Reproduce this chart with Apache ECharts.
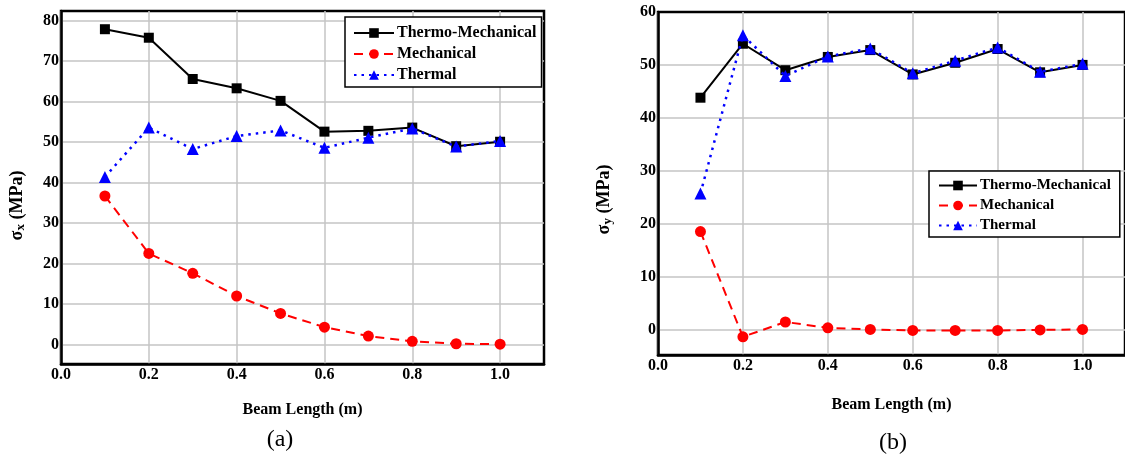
<!DOCTYPE html>
<html><head><meta charset="utf-8">
<script src="https://cdn.jsdelivr.net/npm/echarts@6/dist/echarts.min.js"></script>
<style>html,body{margin:0;padding:0;background:#fff}#c{width:1125px;height:461px}</style>
</head><body><div id="c"></div>
<script>
// ---- data ----
const beamLength = [0.1, 0.2, 0.3, 0.4, 0.5, 0.6, 0.7, 0.8, 0.9, 1.0];
const sxThermoMech = [77.9, 75.8, 65.6, 63.3, 60.2, 52.6, 52.8, 53.6, 49.0, 50.1];
const sxMech       = [36.7, 22.5, 17.6, 12.0, 7.7, 4.3, 2.1, 0.8, 0.2, 0.1];
const sxThermal    = [41.4, 53.6, 48.3, 51.5, 52.9, 48.6, 51.1, 53.4, 48.9, 50.3];
const syThermoMech = [43.8, 54.0, 49.0, 51.5, 52.8, 48.2, 50.4, 53.0, 48.6, 50.0];
const syMech       = [18.5, -1.4, 1.4, 0.3, 0.0, -0.2, -0.2, -0.2, -0.1, 0.0];
const syThermal    = [25.7, 55.6, 47.9, 51.6, 53.1, 48.4, 50.8, 53.3, 48.7, 50.2];
const xTicks  = [0, 0.2, 0.4, 0.6, 0.8, 1.0];
const yTicksA = [0, 10, 20, 30, 40, 50, 60, 70, 80];
const yTicksB = [0, 10, 20, 30, 40, 50, 60];
const yGridB  = [0, 10, 20, 30, 40, 50];
const seriesNames = ['Thermo-Mechanical', 'Mechanical', 'Thermal'];
const xName = 'Beam Length (m)';
const captions = ['(a)', '(b)'];

const pairs = ys => beamLength.map((x, i) => [x, ys[i]]);
const FONT = 'Liberation Serif';

function xAxis(gi, gap) {
  return {
    type: 'value', gridIndex: gi, min: 0, max: 1.1,
    name: xName, nameLocation: 'middle', nameGap: gap,
    nameTextStyle: { fontFamily: FONT, fontWeight: 'bold', fontSize: 16, color: '#000' },
    axisLine: { show: true, onZero: false, lineStyle: { color: '#000', width: 2.5 } },
    axisTick: { show: false, customValues: xTicks },
    axisLabel: { customValues: xTicks, formatter: v => v.toFixed(1), margin: 3,
      fontFamily: FONT, fontWeight: 'bold', fontSize: 16, color: '#000' },
    splitLine: { show: true, lineStyle: { color: '#c4c4c4', width: 1.5 } }
  };
}
function yAxis(gi, ticks, grid, min, max, sub, gap, shift) {
  return {
    type: 'value', gridIndex: gi, min: min, max: max,
    name: '{s|σ}{b|' + sub + '}{s| (MPa)}', nameLocation: 'middle', nameGap: gap, nameRotate: 90,
    nameTextStyle: { padding: [0, shift, 0, 0], rich: {
      s: { fontFamily: FONT, fontWeight: 'bold', fontSize: 18, color: '#000' },
      b: { fontFamily: FONT, fontWeight: 'bold', fontSize: 13, color: '#000', verticalAlign: 'bottom', padding: [7, 0, 0, 0] }
    } },
    axisLine: { show: true, onZero: false, lineStyle: { color: '#000', width: 2.5 } },
    axisTick: { show: false, customValues: grid },
    axisLabel: { customValues: ticks, margin: 2,
      fontFamily: FONT, fontWeight: 'bold', fontSize: 16, color: '#000' },
    splitLine: { show: true, lineStyle: { color: '#c4c4c4', width: 1.5 } }
  };
}
const styles = [
  { color: '#000', line: { color: '#000', width: 2, type: 'solid' }, symbol: 'rect', size: 10 },
  { color: '#ff0000', line: { color: '#ff0000', width: 2, type: [9, 6] }, symbol: 'circle', size: 11 },
  { color: '#0000ff', line: { color: '#0000ff', width: 2.5, type: [2.5, 5] }, symbol: 'triangle', size: 12 }
];
function mkSeries(gi, arrs) {
  return arrs.map((a, k) => ({
    type: 'line', name: seriesNames[k], xAxisIndex: gi, yAxisIndex: gi,
    data: pairs(a), symbol: styles[k].symbol, symbolSize: styles[k].size,
    itemStyle: { color: styles[k].color }, lineStyle: styles[k].line,
    showAllSymbol: true, animation: false, z: 3 + k
  }));
}
function legend(left, top, fs, iw, gap, pad) {
  return {
    left: left, top: top, orient: 'vertical', data: seriesNames,
    itemWidth: iw, itemHeight: 12, itemGap: gap,
    backgroundColor: '#fff', borderColor: '#000', borderWidth: 1.5, borderRadius: 0,
    padding: pad, selectedMode: false,
    textStyle: { fontFamily: FONT, fontWeight: 'bold', fontSize: fs, color: '#000', padding: [0, 0, 0, -2] }
  };
}

const chart = echarts.init(document.getElementById('c'), null, { renderer: 'canvas' });
chart.setOption({
  animation: false,
  backgroundColor: '#fff',
  grid: [
    { left: 61, top: 11, width: 483, height: 353, show: true, borderColor: '#000', borderWidth: 2.5, containLabel: false },
    { left: 658, top: 12, width: 471, height: 343, show: true, borderColor: '#000', borderWidth: 2.5, containLabel: false }
  ],
  xAxis: [xAxis(0, 38), xAxis(1, 42)],
  yAxis: [yAxis(0, yTicksA, yTicksA, -4.8, 82.4, 'x', 34, 36), yAxis(1, yTicksB, yGridB, -4.84, 60, 'y', 44, 32)],
  legend: [legend(345, 17, 16, 40, 5, [8, 5, 4, 8]), legend(929, 171, 15, 38, 5, [7, 9, 4, 9])],
  series: [...mkSeries(0, [sxThermoMech, sxMech, sxThermal]), ...mkSeries(1, [syThermoMech, syMech, syThermal])],
  graphic: [
    { type: 'text', x: 280, y: 440, style: { text: captions[0], font: '24px "Liberation Serif"', fill: '#000', textAlign: 'center', textVerticalAlign: 'middle' } },
    { type: 'text', x: 893, y: 443, style: { text: captions[1], font: '24px "Liberation Serif"', fill: '#000', textAlign: 'center', textVerticalAlign: 'middle' } }
  ]
});
</script></body></html>
